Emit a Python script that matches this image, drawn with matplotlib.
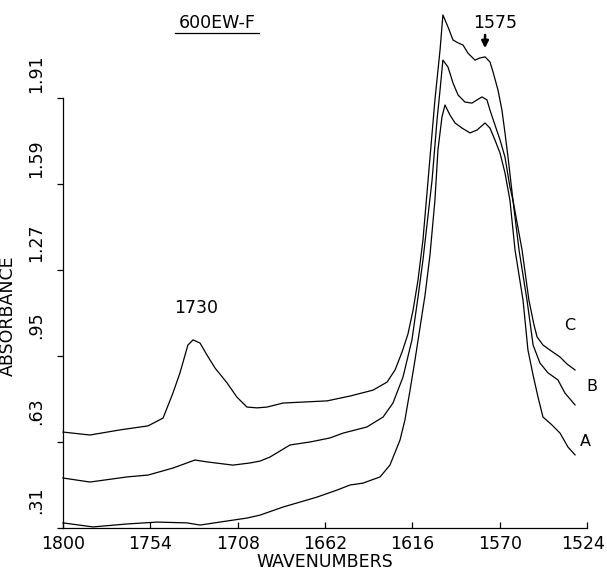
import matplotlib
matplotlib.use("Agg")
import matplotlib.pyplot as plt
from matplotlib.lines import Line2D
from matplotlib.transforms import ScaledTranslation

# spectra (wavenumber, absorbance)
wn_c = [1800, 1785.8, 1770.0, 1755.2, 1747.3, 1742.1, 1738.4, 1735.7, 1734.2, 1731.5,
        1727.8, 1724.2, 1719.9, 1713.6, 1708.4, 1703.1, 1697.8, 1692.5, 1684.1, 1660.9,
        1648.8, 1636.7, 1629.3, 1625.1, 1621.4, 1618.3, 1615.6, 1613.0, 1610.4, 1607.7,
        1604.1, 1601.4, 1599.9, 1597.2, 1594.6, 1591.9, 1589.3, 1586.7, 1583.0, 1580.4,
        1577.7, 1575.1, 1573.5, 1570.9, 1568.8, 1567.2, 1565.6, 1563.0, 1558.2, 1554.6,
        1551.9, 1550.3, 1547.2, 1543.5, 1538.2, 1534.5, 1530.3]
abs_c = [0.507, 0.496, 0.515, 0.530, 0.559, 0.652, 0.727, 0.794, 0.831, 0.850,
         0.838, 0.794, 0.745, 0.690, 0.637, 0.600, 0.597, 0.600, 0.615, 0.623,
         0.641, 0.663, 0.693, 0.738, 0.805, 0.872, 0.961, 1.073, 1.222, 1.445,
         1.743, 1.929, 2.059, 2.014, 1.966, 1.955, 1.947, 1.917, 1.891, 1.899,
         1.903, 1.884, 1.847, 1.780, 1.705, 1.620, 1.530, 1.370, 1.184, 0.998,
         0.905, 0.861, 0.831, 0.812, 0.786, 0.760, 0.738]

wn_b = [1800, 1785.8, 1766.3, 1755.2, 1742.1, 1730.5, 1724.2, 1710.5, 1701.5, 1696.2,
        1691.0, 1680.4, 1669.9, 1659.4, 1652.5, 1639.9, 1631.4, 1626.2, 1620.9, 1616.2,
        1613.0, 1610.4, 1605.6, 1603.0, 1601.4, 1599.9, 1597.2, 1594.6, 1591.9, 1588.3,
        1584.6, 1581.9, 1579.3, 1576.7, 1575.1, 1572.5, 1569.8, 1567.2, 1564.6, 1563.0,
        1559.8, 1555.6, 1552.4, 1548.8, 1544.5, 1539.3, 1535.6, 1530.3]
abs_b = [0.336, 0.321, 0.340, 0.347, 0.373, 0.403, 0.396, 0.384, 0.392, 0.399,
         0.414, 0.459, 0.470, 0.485, 0.503, 0.526, 0.563, 0.615, 0.712, 0.850,
         1.010, 1.147, 1.445, 1.668, 1.780, 1.891, 1.865, 1.806, 1.761, 1.735,
         1.731, 1.743, 1.754, 1.743, 1.705, 1.650, 1.594, 1.530, 1.419, 1.370,
         1.184, 0.998, 0.831, 0.764, 0.727, 0.701, 0.652, 0.608]

wn_a = [1800, 1784.2, 1766.3, 1750.5, 1734.7, 1727.8, 1713.6, 1703.1, 1696.2, 1684.1,
        1666.2, 1655.7, 1648.8, 1642.0, 1633.0, 1627.8, 1622.5, 1619.9, 1617.2, 1614.6,
        1612.0, 1609.3, 1606.7, 1604.1, 1602.5, 1600.4, 1598.8, 1596.2, 1593.5, 1589.8,
        1585.6, 1581.9, 1577.7, 1575.1, 1572.5, 1569.8, 1567.2, 1564.6, 1561.9, 1557.7,
        1555.1, 1552.4, 1549.8, 1547.2, 1542.4, 1538.2, 1534.0, 1530.3]
abs_a = [0.169, 0.154, 0.165, 0.172, 0.169, 0.161, 0.176, 0.187, 0.198, 0.228,
         0.265, 0.291, 0.310, 0.317, 0.340, 0.384, 0.477, 0.552, 0.663, 0.775,
         0.894, 1.017, 1.166, 1.370, 1.557, 1.679, 1.724, 1.687, 1.657, 1.638,
         1.620, 1.631, 1.657, 1.638, 1.594, 1.545, 1.471, 1.370, 1.184, 0.998,
         0.812, 0.719, 0.637, 0.563, 0.533, 0.503, 0.451, 0.422]

x_ticks = [1800, 1754, 1708, 1662, 1616, 1570, 1524]
y_ticks = [0.15, 0.47, 0.79, 1.11, 1.43, 1.75]
y_tick_labels = [".31", ".63", ".95", "1.27", "1.59", "1.91"]
y_label_pos = [0.255, 0.585, 0.905, 1.21, 1.525, 1.84]

plt.rcParams["font.family"] = ["DejaVu Sans"]
fs = 12.5

fig = plt.figure(figsize=(6.07, 5.71), dpi=100)
ax = fig.add_axes([63 / 607, 1 - 528 / 571, 524 / 607, 430 / 571])

for wn, ab in [(wn_a, abs_a), (wn_b, abs_b), (wn_c, abs_c)]:
    ax.plot(wn, ab, color="black", linewidth=0.9, clip_on=False)

ax.set_xlim(1800, 1524)
ax.set_ylim(0.15, 1.75)
ax.spines["top"].set_visible(False)
ax.spines["right"].set_visible(False)
ax.spines["left"].set_linewidth(0.9)
ax.spines["bottom"].set_linewidth(0.9)

ax.set_xticks(x_ticks)
ax.set_xticklabels([str(t) for t in x_ticks], fontsize=fs)
ax.tick_params(axis="x", direction="in", length=4, width=0.9, pad=5)
# last label sits a little left so it stays on the page
last = ax.get_xticklabels()[-1]
last.set_transform(last.get_transform() + ScaledTranslation(-4 / 100, 0, fig.dpi_scale_trans))
ax.set_yticks(y_ticks)
ax.set_yticklabels([])
ax.tick_params(axis="y", direction="out", length=4, width=0.9)

for pos, lab in zip(y_label_pos, y_tick_labels):
    ax.text(-0.0515, pos, lab, transform=ax.get_yaxis_transform(), rotation=90,
            ha="center", va="center", fontsize=fs, clip_on=False)

ax.set_xlabel("WAVENUMBERS", fontsize=fs, labelpad=0)
ax.set_ylabel("ABSORBANCE", fontsize=fs)
ax.yaxis.set_label_coords(-0.088, 0.493)

# annotations
ax.text(0.294, 1.174, "600EW-F", transform=ax.transAxes, ha="center", va="center", fontsize=fs)
fig.add_artist(Line2D([175 / 607, 259 / 607], [1 - 33 / 571, 1 - 33 / 571],
                      color="black", linewidth=0.9))
ax.text(1730, 0.97, "1730", ha="center", va="center", fontsize=fs)
ax.text(1572.5, 2.03, "1575", ha="center", va="center", fontsize=fs, clip_on=False)
ax.annotate("", xy=(1577.7, 1.925), xytext=(1577.7, 1.995),
            arrowprops=dict(arrowstyle="-|>", color="black", lw=1.8, mutation_scale=10),
            annotation_clip=False)
ax.text(1533.0, 0.905, "C", ha="center", va="center", fontsize=fs - 1, clip_on=False)
ax.text(1521.4, 0.678, "B", ha="center", va="center", fontsize=fs - 1, clip_on=False)
ax.text(1525.1, 0.470, "A", ha="center", va="center", fontsize=fs - 1, clip_on=False)

fig.savefig("out.png", dpi=100)
